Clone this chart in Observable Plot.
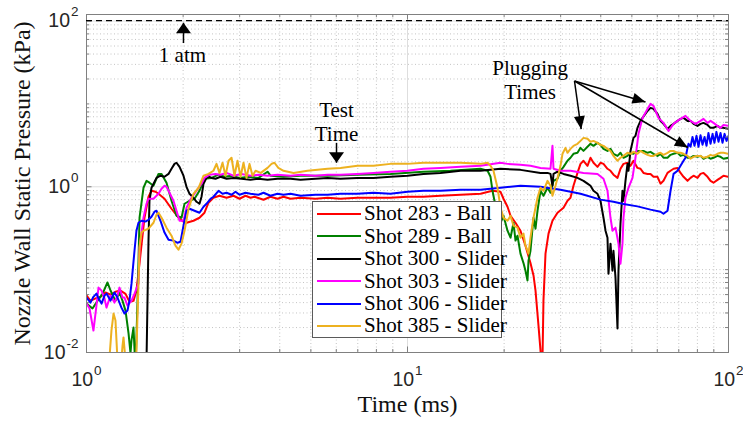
<!DOCTYPE html>
<html>
<head>
<meta charset="utf-8">
<script src="https://cdn.jsdelivr.net/npm/d3@7"></script>
<script src="https://cdn.jsdelivr.net/npm/@observablehq/plot@0.6"></script>
<style>
  html, body { margin: 0; padding: 0; background: #fff; }
  #chart { position: relative; width: 743px; height: 423px; }
  #legend {
    position: absolute; left: 312px; top: 201px; width: 190px; height: 137px;
    box-sizing: border-box; background: #fff; border: 1px solid #5a5a5a;
    font-family: "Liberation Serif", "Times New Roman", serif; font-size: 21px; color: #000;
  }
  #legend .row { position: absolute; left: 3px; height: 22px; display: flex; align-items: center; white-space: nowrap; }
  #legend svg { display: block; margin-right: 3px; }
</style>
</head>
<body>
<div id="chart"></div>
<script>
// Nozzle wall static pressure traces: [time (ms), pressure (kPa)]
const shot283 = [[1.000,0.049],[1.029,0.042],[1.067,0.045],[1.106,0.047],[1.146,0.053],[1.188,0.050],[1.231,0.054],[1.276,0.056],[1.323,0.051],[1.361,0.041],[1.401,0.042],[1.431,0.056],[1.463,0.12],[1.483,0.195],[1.516,0.423],[1.560,0.758],[1.594,0.895],[1.641,0.87],[1.676,0.823],[1.750,0.717],[1.840,0.543],[1.934,0.423],[2.005,0.38],[2.049,0.368],[2.154,0.389],[2.249,0.423],[2.331,0.486],[2.399,0.642],[2.486,0.737],[2.596,0.779],[2.731,0.737],[2.871,0.779],[2.997,0.717],[3.129,0.779],[3.243,0.737],[3.338,0.758],[3.56,0.697],[3.743,0.758],[3.936,0.717],[4.109,0.758],[4.321,0.717],[4.642,0.737],[5.169,0.717],[5.635,0.737],[6.183,0.717],[6.986,0.737],[7.836,0.737],[8.851,0.737],[10.0,0.758],[11.21,0.758],[12.67,0.779],[14.63,0.801],[16.88,0.823],[18.40,0.895],[19.49,0.87],[19.91,0.717],[20.49,0.574],[20.94,0.447],[21.70,0.368],[22.49,0.295],[23.31,0.195],[24.16,0.12],[24.69,0.085],[25.05,0.0558],[25.59,0.0211],[25.96,0.0106],[26.15,0.007],[26.33,0.008],[26.52,0.0423],[26.91,0.156],[27.50,0.272],[28.29,0.389],[29.33,0.486],[30.62,0.558],[31.51,0.678],[32.19,0.737],[32.89,1.03],[33.85,1.47],[34.59,1.89],[35.34,2.06],[36.37,1.79],[37.16,2.24],[37.96,1.95],[39.07,1.74],[39.92,1.95],[40.79,1.89],[41.98,1.65],[42.89,1.56],[43.82,1.40],[45.10,1.28],[46.08,1.65],[47.08,1.89],[48.45,1.95],[49.50,1.79],[50.58,2.06],[52.05,1.69],[53.19,1.65],[54.34,1.47],[55.93,1.43],[57.15,1.43],[58.40,1.32],[60.09,1.32],[61.40,1.09],[62.73,1.18],[64.57,1.47],[65.98,1.56],[67.43,1.65],[69.38,1.69],[70.89,1.47],[72.43,1.32],[74.54,1.18],[76.16,1.28],[77.80,1.36],[80.07,1.28],[81.81,1.43],[83.59,1.47],[86.03,1.32],[87.90,1.18],[89.80,1.12],[92.41,1.21],[94.43,1.28],[96.47,1.36],[100,1.32]];

const shot289 = [[1.000,0.039],[1.044,0.034],[1.082,0.042],[1.122,0.051],[1.162,0.070],[1.188,0.056],[1.231,0.042],[1.267,0.053],[1.295,0.042],[1.323,0.032],[1.352,0.017],[1.371,0.0098],[1.381,0.014],[1.401,0.020],[1.421,0.006],[1.442,0.042],[1.463,0.423],[1.505,0.973],[1.538,1.18],[1.571,1.12],[1.617,1.03],[1.676,1.43],[1.713,1.43],[1.775,1.12],[1.840,0.678],[1.907,0.447],[1.977,0.423],[2.020,0.624],[2.094,0.678],[2.170,0.717],[2.249,0.895],[2.331,1.25],[2.451,1.28],[2.578,1.40],[2.692,1.32],[2.830,1.36],[2.997,1.28],[3.197,1.32],[3.435,1.28],[3.664,1.52],[3.743,1.36],[4.109,1.32],[4.642,1.36],[5.635,1.36],[6.986,1.40],[8.851,1.43],[11.21,1.52],[13.61,1.56],[16.88,1.65],[17.76,1.56],[18.14,1.32],[18.40,0.895],[18.66,0.678],[19.07,0.558],[19.49,0.368],[19.91,0.447],[20.49,0.295],[20.94,0.243],[21.39,0.368],[21.70,0.224],[22.01,0.257],[22.49,0.156],[22.98,0.12],[23.31,0.097],[23.65,0.074],[23.82,0.128],[24.16,0.169],[24.69,0.423],[25.05,0.312],[25.41,0.514],[25.96,0.895],[26.52,0.779],[27.30,0.973],[27.89,0.847],[28.50,1.18],[29.33,1.25],[29.96,1.56],[30.62,1.74],[31.51,2.06],[32.19,2.24],[32.89,2.50],[33.85,2.57],[34.59,2.95],[35.34,2.71],[36.37,3.04],[37.16,3.30],[37.96,3.12],[39.07,3.39],[39.92,3.21],[40.79,2.87],[41.98,2.71],[42.89,2.87],[43.82,2.50],[45.10,2.36],[46.08,2.57],[47.08,2.24],[48.45,2.36],[49.50,2.57],[50.58,2.50],[52.05,2.71],[54.34,2.71],[55.93,2.57],[57.15,2.64],[58.40,2.50],[60.09,2.36],[61.40,2.50],[62.73,2.24],[64.57,2.24],[65.98,2.43],[67.43,2.50],[69.38,2.57],[70.89,2.36],[72.43,2.43],[74.54,2.24],[76.16,2.24],[77.80,2.36],[80.07,2.30],[81.81,2.36],[83.59,2.18],[86.03,2.30],[87.90,2.18],[89.80,2.24],[92.41,2.36],[94.43,2.30],[96.47,2.18],[100,2.24]];

const shot300 = [[1.000,0.005],[1.505,0.005],[1.538,0.008],[1.549,0.042],[1.560,0.224],[1.571,0.678],[1.594,0.973],[1.652,1.28],[1.700,1.36],[1.750,1.32],[1.801,1.43],[1.840,1.65],[1.880,1.89],[1.907,1.95],[1.949,1.74],[2.005,1.36],[2.049,1.00],[2.094,0.823],[2.154,0.737],[2.202,0.659],[2.249,0.624],[2.282,0.758],[2.315,1.09],[2.365,1.28],[2.416,1.32],[2.451,1.28],[2.523,1.25],[2.615,1.32],[2.731,1.25],[2.871,1.28],[3.040,1.25],[3.243,1.215],[3.435,1.25],[3.664,1.215],[3.936,1.25],[4.321,1.25],[4.642,1.215],[5.169,1.25],[5.635,1.28],[6.183,1.25],[6.986,1.28],[7.836,1.28],[8.851,1.32],[10.0,1.36],[11.21,1.43],[12.67,1.47],[14.63,1.56],[16.88,1.56],[19.49,1.65],[22.49,1.60],[25.96,1.47],[27.30,1.47],[27.89,1.43],[28.29,1.03],[28.50,1.43],[29.33,1.52],[30.62,1.43],[32.19,1.36],[33.85,1.28],[35.34,1.18],[36.37,1.09],[37.16,1.03],[37.96,0.895],[39.07,0.823],[39.92,0.678],[40.79,0.423],[41.39,0.295],[41.98,0.243],[42.28,0.0895],[42.89,0.206],[43.51,0.0973],[43.82,0.169],[44.46,0.080],[45.10,0.0195],[45.42,0.0973],[46.08,0.358],[46.74,0.895],[47.08,0.678],[47.76,1.18],[48.45,1.89],[48.80,1.56],[49.50,2.71],[50.58,3.89],[51.31,4.12],[52.05,5.14],[53.19,6.24],[53.96,6.78],[55.93,8.23],[57.15,8.95],[58.40,8.71],[60.09,7.58],[61.40,6.24],[62.73,5.74],[64.57,5.00],[65.98,5.43],[67.43,5.74],[69.38,6.24],[70.89,6.60],[72.43,6.78],[74.54,6.24],[76.16,6.24],[77.80,5.74],[80.07,5.43],[81.81,5.74],[83.59,5.90],[86.03,5.58],[87.90,5.14],[89.80,5.14],[92.41,5.43],[94.43,5.14],[96.47,5.14],[100,5.00]];

const shot303 = [[1.000,0.039],[1.022,0.034],[1.051,0.0184],[1.074,0.0368],[1.090,0.0607],[1.114,0.0558],[1.138,0.045],[1.154,0.0348],[1.188,0.0486],[1.222,0.040],[1.249,0.0486],[1.267,0.0607],[1.295,0.046],[1.313,0.046],[1.342,0.0368],[1.381,0.0423],[1.411,0.0514],[1.452,0.0678],[1.463,0.184],[1.483,0.272],[1.505,0.423],[1.538,0.624],[1.560,0.717],[1.617,0.717],[1.676,0.823],[1.713,0.946],[1.750,1.03],[1.775,1.00],[1.814,0.847],[1.866,0.678],[1.907,0.514],[1.949,0.389],[2.005,0.389],[2.049,0.558],[2.124,0.737],[2.202,0.895],[2.282,1.09],[2.331,1.28],[2.416,1.40],[2.523,1.43],[2.615,1.40],[2.731,1.47],[2.871,1.36],[3.040,1.43],[3.243,1.36],[3.435,1.40],[3.664,1.36],[3.936,1.40],[4.321,1.36],[4.642,1.40],[5.169,1.36],[5.635,1.40],[6.183,1.40],[6.986,1.43],[7.836,1.47],[8.851,1.52],[10.0,1.56],[11.21,1.65],[12.67,1.69],[14.63,1.74],[16.88,1.79],[19.49,1.95],[20.49,1.89],[22.49,1.84],[24.16,1.79],[25.96,1.69],[27.89,1.65],[28.29,3.12],[28.50,1.65],[29.96,1.56],[32.19,1.56],[35.34,1.47],[39.07,1.43],[40.79,1.25],[41.98,0.895],[42.89,0.423],[43.51,0.295],[44.46,0.321],[45.42,0.206],[46.08,0.118],[46.74,0.206],[47.08,0.423],[47.76,0.737],[48.80,0.973],[50.22,1.28],[51.31,2.24],[52.43,4.35],[53.96,6.78],[55.93,8.71],[57.15,10.0],[58.40,9.46],[59.25,8.23],[60.52,6.78],[62.73,5.90],[65.04,4.73],[67.43,5.74],[69.38,6.24],[70.89,6.60],[73.46,7.17],[76.16,6.24],[78.92,5.74],[81.81,6.24],[83.59,6.60],[86.03,5.90],[87.90,6.24],[89.80,5.90],[92.41,5.43],[94.43,5.14],[96.47,5.58],[100,5.43]];

const shot306 = [[1.000,0.046],[1.029,0.040],[1.051,0.047],[1.074,0.0514],[1.090,0.045],[1.114,0.0389],[1.138,0.0486],[1.154,0.0514],[1.188,0.0423],[1.222,0.053],[1.249,0.046],[1.285,0.0348],[1.313,0.0295],[1.342,0.0321],[1.361,0.0423],[1.381,0.0678],[1.411,0.169],[1.431,0.295],[1.452,0.368],[1.483,0.389],[1.527,0.38],[1.560,0.40],[1.594,0.435],[1.629,0.50],[1.652,0.514],[1.700,0.389],[1.750,0.28],[1.801,0.23],[1.866,0.224],[1.921,0.211],[1.963,0.217],[2.005,0.339],[2.049,0.514],[2.094,0.543],[2.170,0.514],[2.249,0.486],[2.315,0.574],[2.365,0.624],[2.434,0.717],[2.486,0.758],[2.578,0.895],[2.653,0.823],[2.731,0.847],[2.830,0.801],[2.912,0.87],[2.997,0.801],[3.129,0.847],[3.243,0.823],[3.435,0.801],[3.560,0.847],[3.743,0.779],[3.936,0.823],[4.109,0.801],[4.321,0.823],[4.642,0.779],[5.169,0.801],[5.635,0.801],[6.183,0.823],[6.986,0.823],[7.836,0.847],[8.851,0.823],[10.0,0.87],[11.21,0.895],[12.67,0.895],[14.63,0.92],[16.88,0.92],[19.49,0.973],[22.49,1.03],[25.96,1.00],[29.96,0.92],[34.59,0.823],[39.92,0.70],[43.82,0.66],[47.08,0.62],[52.05,0.58],[57.15,0.53],[61.40,0.50],[62.73,0.473],[64.57,0.514],[65.98,0.895],[67.43,1.43],[69.38,1.56],[70.89,1.79],[72.43,2.06],[73.46,2.24],[74.54,2.95],[75.07,3.30],[76.16,3.04],[77.25,4.0],[78.36,3.12],[79.49,4.12],[80.63,3.04],[81.81,4.2],[83.0,3.21],[84.2,4.0],[85.4,3.12],[86.6,4.47],[87.90,3.30],[89.2,4.35],[90.4,3.39],[91.7,4.60],[93.1,3.49],[94.43,4.47],[95.8,3.39],[97.2,4.35],[98.6,3.58],[100,4.12]];

const shot385 = [[1.000,0.005],[1.171,0.006],[1.196,0.0184],[1.214,0.0295],[1.231,0.0243],[1.249,0.008],[1.276,0.006],[1.295,0.0121],[1.304,0.0152],[1.323,0.008],[1.371,0.005],[1.421,0.006],[1.431,0.0106],[1.452,0.0678],[1.463,0.184],[1.483,0.28],[1.505,0.295],[1.560,0.312],[1.617,0.368],[1.652,0.46],[1.676,0.486],[1.713,0.423],[1.775,0.321],[1.840,0.257],[1.893,0.195],[1.934,0.174],[1.977,0.206],[2.020,0.295],[2.079,0.543],[2.154,0.823],[2.234,0.973],[2.315,1.36],[2.399,1.43],[2.486,1.56],[2.541,1.89],[2.596,1.47],[2.653,1.95],[2.711,1.36],[2.770,2.06],[2.830,2.24],[2.891,1.36],[2.954,2.06],[3.019,1.32],[3.084,1.95],[3.151,1.28],[3.220,1.89],[3.290,1.36],[3.362,1.56],[3.491,1.47],[3.664,1.69],[3.77,1.89],[3.85,1.95],[3.96,1.69],[4.109,1.56],[4.415,1.47],[4.881,1.56],[5.635,1.65],[6.183,1.69],[6.986,1.79],[7.836,1.79],[8.851,1.89],[10.0,1.89],[11.21,1.95],[12.67,1.95],[14.63,1.95],[16.88,1.89],[17.76,1.95],[18.14,1.79],[18.53,1.56],[19.07,0.973],[19.49,0.558],[19.91,0.423],[20.49,0.389],[20.94,0.447],[21.39,0.339],[22.01,0.321],[22.49,0.243],[22.98,0.272],[23.31,0.195],[23.65,0.169],[23.82,0.156],[24.16,0.243],[24.69,0.423],[25.41,0.737],[25.96,0.973],[26.52,0.895],[27.30,1.18],[27.89,1.03],[28.29,0.779],[28.91,1.03],[29.33,1.28],[29.96,1.79],[30.40,2.50],[31.06,2.95],[31.51,2.57],[32.19,2.87],[32.89,3.12],[33.85,3.30],[34.59,3.58],[35.34,3.89],[36.37,3.79],[37.16,3.49],[37.96,3.58],[39.07,3.39],[39.92,3.21],[40.79,3.12],[41.98,2.87],[42.89,2.71],[43.82,2.36],[45.10,2.06],[46.08,2.24],[47.08,2.36],[48.45,2.57],[49.50,2.50],[50.58,2.64],[52.05,2.50],[53.19,2.71],[54.34,2.57],[55.93,2.43],[57.15,2.36],[58.40,2.36],[60.09,2.50],[61.40,2.57],[62.73,2.43],[64.57,2.57],[65.98,2.71],[67.43,2.71],[69.38,2.57],[70.89,2.57],[72.43,2.50],[74.54,2.36],[76.16,2.18],[77.80,2.30],[80.07,2.36],[81.81,2.36],[83.59,2.24],[86.03,2.30],[87.90,2.43],[89.80,2.36],[92.41,2.50],[94.43,2.57],[96.47,2.57],[100,2.50]];

const seriesData = [shot283, shot289, shot300, shot303, shot306, shot385];
const seriesLabels = ["Shot 283 - Ball", "Shot 289 - Ball", "Shot 300 - Slider", "Shot 303 - Slider", "Shot 306 - Slider", "Shot 385 - Slider"];
const seriesColors = ["#ff0000", "#008000", "#000000", "#ff00ff", "#0000ff", "#edb120"];

// Axis ticks
const xMajorTicks = [1, 10, 100];
const xMinorTicks = [2, 3, 4, 5, 6, 7, 8, 9, 20, 30, 40, 50, 60, 70, 80, 90];
const xTickLabels = ["10^0", "10^1", "10^2"];
const yMajorTicks = [0.01, 1, 100];
const yMinorTicks = [0.02, 0.03, 0.04, 0.05, 0.06, 0.07, 0.08, 0.09, 0.1, 0.2, 0.3, 0.4, 0.5, 0.6, 0.7, 0.8, 0.9, 2, 3, 4, 5, 6, 7, 8, 9, 10, 20, 30, 40, 50, 60, 70, 80, 90];
const yTickLabels = ["10^-2", "10^0", "10^2"];

// Reference level and annotations
const atmosphereKPa = 101.325;
const notes = [
  {x: 1.99, y: 40, text: "1 atm"},
  {x: 6.01, y: 6.15, text: "Test\nTime"},
  {x: 24.1, y: 19.6, text: "Plugging\nTimes"}
];
const verticalArrows = [
  {x1: 2.005, y1: 54.3, x2: 2.005, y2: 95.4},
  {x1: 6.01, y1: 3.39, x2: 6.01, y2: 1.95}
];
const pluggingArrows = [
  {x1: 33.13, y1: 18.9, x2: 34.76, y2: 4.96},
  {x1: 33.13, y1: 18.9, x2: 55.13, y2: 10.57},
  {x1: 33.13, y1: 18.9, x2: 74.7, y2: 2.98}
];

const W = 743, H = 423;
const M = {top: 14, right: 15, bottom: 71, left: 86};
const xDomain = [1, 100], yDomain = [0.01, 120];
const plotW = W - M.left - M.right, plotH = H - M.top - M.bottom;

// Screen-space heading of an arrow (degrees clockwise from "up"), used to orient its head
const sx = d3.scaleLog(xDomain, [M.left, W - M.right]);
const sy = d3.scaleLog(yDomain, [H - M.bottom, M.top]);
const heading = (a) => Math.atan2(sx(a.x2) - sx(a.x1), sy(a.y1) - sy(a.y2)) * 180 / Math.PI;

// Filled triangular arrowheads with the tip at the anchor point
const headSymbol = (len, half) => ({
  draw(ctx, size) {
    const r = Math.sqrt(size / Math.PI) / 5;
    ctx.moveTo(0, 0);
    ctx.lineTo(half * r, len * r);
    ctx.lineTo(-half * r, len * r);
    ctx.closePath();
  }
});

const serif = "Liberation Serif, Times New Roman, serif";
const sans = "Liberation Sans, Arial, Helvetica, sans-serif";
const axisGray = "#808080";

const marks = [
  // grid
  Plot.ruleX(xMinorTicks, {x: d => d, stroke: "#c4c4c4", strokeDasharray: "1,2.5"}),
  Plot.ruleY(yMinorTicks, {y: d => d, stroke: "#c4c4c4", strokeDasharray: "1,2.5"}),
  Plot.ruleX(xMajorTicks, {x: d => d, stroke: "#dedede"}),
  Plot.ruleY(yMajorTicks, {y: d => d, stroke: "#dedede"}),
  // traces
  ...seriesData.map((s, i) => Plot.line(s, {x: d => d[0], y: d => d[1], stroke: seriesColors[i], strokeWidth: 2, clip: true, strokeLinejoin: "round"})),
  // box and inward ticks on all four sides
  Plot.frame({stroke: axisGray}),
  Plot.tickX(xMinorTicks, {x: d => d, stroke: axisGray, insetTop: plotH - 3}),
  Plot.tickX(xMinorTicks, {x: d => d, stroke: axisGray, insetBottom: plotH - 3}),
  Plot.tickX(xMajorTicks, {x: d => d, stroke: axisGray, insetTop: plotH - 5.5}),
  Plot.tickX(xMajorTicks, {x: d => d, stroke: axisGray, insetBottom: plotH - 5.5}),
  Plot.tickY(yMinorTicks, {y: d => d, stroke: axisGray, insetRight: plotW - 3}),
  Plot.tickY(yMinorTicks, {y: d => d, stroke: axisGray, insetLeft: plotW - 3}),
  Plot.tickY(yMajorTicks, {y: d => d, stroke: axisGray, insetRight: plotW - 5.5}),
  Plot.tickY(yMajorTicks, {y: d => d, stroke: axisGray, insetLeft: plotW - 5.5}),
  // tick labels
  Plot.text(xMajorTicks, {x: d => d, text: (d, i) => xTickLabels[i], frameAnchor: "bottom", textAnchor: "middle", lineAnchor: "bottom", dy: 33, fontFamily: sans, fontSize: 19.5, fill: "#262626"}),
  Plot.text(yMajorTicks, {y: d => d, text: (d, i) => yTickLabels[i], frameAnchor: "left", textAnchor: "end", lineAnchor: "middle", dx: -8, fontFamily: sans, fontSize: 19.5, fill: "#262626"}),
  // axis titles
  Plot.text(["Time (ms)"], {text: d => d, frameAnchor: "bottom", textAnchor: "middle", lineAnchor: "bottom", dy: 59, fontFamily: serif, fontSize: 24, fill: "#111"}),
  Plot.text(["Nozzle Wall Static Pressure (kPa)"], {text: d => d, frameAnchor: "left", textAnchor: "middle", rotate: -90, lineAnchor: "middle", dx: -64, fontFamily: serif, fontSize: 24, fill: "#111"}),
  // 1 atm reference
  Plot.ruleY([atmosphereKPa], {y: d => d, stroke: "#000", strokeWidth: 1.1, strokeDasharray: "6,4"}),
  // annotations
  Plot.text(notes, {x: "x", y: "y", text: "text", fontFamily: serif, fontSize: 21, lineHeight: 1.14, lineAnchor: "middle", fill: "#000"}),
  Plot.link(verticalArrows, {x1: "x1", y1: "y1", x2: "x2", y2: "y2", stroke: "#000", strokeWidth: 1.5, strokeLinecap: "butt"}),
  Plot.link(pluggingArrows, {x1: "x1", y1: "y1", x2: "x2", y2: "y2", stroke: "#000", strokeWidth: 1.5, strokeLinecap: "butt"}),
  Plot.dot(verticalArrows, {x: "x2", y: "y2", r: 5, symbol: headSymbol(10.5, 7.5), rotate: heading, fill: "#000", stroke: "none"}),
  Plot.dot(pluggingArrows, {x: "x2", y: "y2", r: 5, symbol: headSymbol(13, 5.5), rotate: heading, fill: "#000", stroke: "none"})
];

const chart = Plot.plot({
  width: W, height: H,
  marginTop: M.top, marginRight: M.right, marginBottom: M.bottom, marginLeft: M.left,
  x: {type: "log", domain: xDomain, axis: null},
  y: {type: "log", domain: yDomain, axis: null},
  style: {background: "#fff", fontFamily: sans, fontSize: "19.5px", color: "#262626", overflow: "visible"},
  marks
});

// Render "10^n" tick labels with a raised exponent
const SVGNS = "http://www.w3.org/2000/svg";
chart.querySelectorAll("text").forEach((t) => {
  const m = /^10\^(-?\d+)$/.exec(t.textContent);
  if (!m) return;
  t.textContent = "10";
  const sup = document.createElementNS(SVGNS, "tspan");
  sup.setAttribute("dy", "-11");
  sup.setAttribute("dx", "1");
  sup.setAttribute("font-size", "13.5");
  sup.textContent = m[1];
  t.appendChild(sup);
});

const host = document.getElementById("chart");
host.appendChild(chart);

// Legend box
const legend = document.createElement("div");
legend.id = "legend";
seriesLabels.forEach((label, i) => {
  const row = document.createElement("div");
  row.className = "row";
  row.style.top = (0.7 + i * 22.45) + "px";
  row.innerHTML = `<svg width="45" height="22"><line x1="1" x2="45" y1="11" y2="11" stroke="${seriesColors[i]}" stroke-width="2"/></svg><span>${label}</span>`;
  legend.appendChild(row);
});
host.appendChild(legend);
</script>
</body>
</html>
